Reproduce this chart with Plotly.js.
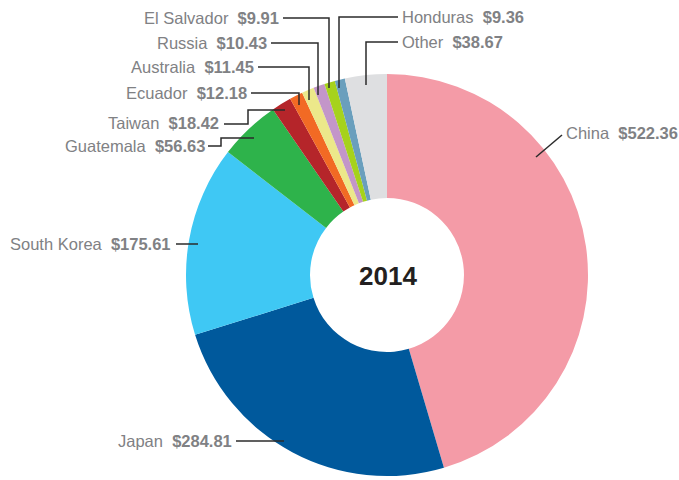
<!DOCTYPE html>
<html>
<head>
<meta charset="utf-8">
<script src="https://cdn.plot.ly/plotly-3.0.1.min.js"></script>
<style>html,body{margin:0;padding:0;background:#fff;}#chart{width:679px;height:480px;}</style>
</head>
<body>
<div id="chart"></div>
<script>
// ---- data ----
const countries = ["China", "Japan", "South Korea", "Guatemala", "Taiwan", "Ecuador", "Australia", "Russia", "El Salvador", "Honduras", "Other"];
const values = [522.36, 284.81, 175.61, 56.63, 18.42, 12.18, 11.45, 10.43, 9.91, 9.36, 38.67];
const valueLabels = ["$522.36", "$284.81", "$175.61", "$56.63", "$18.42", "$12.18", "$11.45", "$10.43", "$9.91", "$9.36", "$38.67"];
const sliceColors = ["#f49ba7", "#00599c", "#3fc8f4", "#2eb34b", "#b5252a", "#f26a24", "#ece88a", "#c396c9", "#a6d21c", "#6a9fbd", "#dedfe1"];
const centerLabel = "2014";

// ---- layout helpers (pixel -> paper) ----
const W = 679, H = 480;
const px = x => x / W;
const py = y => 1 - y / H;

// label placement: [anchor x, y, side, leader path points]
const placement = {
  "China":       {x: 565, y: 133, side: "left",  path: [[536,157],[562,135]]},
  "Japan":       {x: 233, y: 441, side: "right", path: [[236,441],[284,441]]},
  "South Korea": {x: 172, y: 244, side: "right", path: [[176,244],[198,244]]},
  "Guatemala":   {x: 206, y: 146, side: "right", path: [[208,146],[221,146],[221,138],[254,138]]},
  "Taiwan":      {x: 220, y: 123, side: "right", path: [[224,124],[248,124],[248,110],[285,110]]},
  "Ecuador":     {x: 248, y: 93,  side: "right", path: [[251,93],[299,93],[299,105]]},
  "Australia":   {x: 255, y: 67,  side: "right", path: [[258,67],[309,67],[309,100]]},
  "Russia":      {x: 268, y: 43,  side: "right", path: [[271,43],[318,43],[318,95]]},
  "El Salvador": {x: 280, y: 18,  side: "right", path: [[283,18],[329,18],[329,88]]},
  "Honduras":    {x: 401, y: 17,  side: "left",  path: [[398,17],[339,17],[339,88]]},
  "Other":       {x: 401, y: 42,  side: "left",  path: [[398,42],[366,42],[366,85]]}
};

const annotations = [];
const shapes = [];
countries.forEach((c, i) => {
  const p = placement[c];
  annotations.push({
    xref: "paper", yref: "paper",
    x: px(p.x), y: py(p.y),
    xanchor: p.side, yanchor: "middle",
    showarrow: false,
    text: c + "&nbsp; <b>" + valueLabels[i] + "</b>",
    font: {family: "Liberation Sans, Arial, sans-serif", size: 16.5, color: "#808184"},
    borderpad: 0
  });
  const d = p.path.map((pt, k) => (k === 0 ? "M " : "L ") + px(pt[0]) + "," + py(pt[1])).join(" ");
  shapes.push({type: "path", xref: "paper", yref: "paper", path: d, line: {color: "#2b2b2b", width: 1.5}});
});

annotations.push({
  xref: "paper", yref: "paper", x: px(388), y: py(275.5),
  xanchor: "center", yanchor: "middle", showarrow: false,
  text: "<b>" + centerLabel + "</b>",
  font: {family: "Liberation Sans, Arial, sans-serif", size: 26, color: "#231f20"}
});

const trace = {
  type: "pie",
  labels: countries,
  values: values,
  sort: false,
  direction: "clockwise",
  rotation: 0,
  hole: 0.383,
  textinfo: "none",
  hoverinfo: "label+value",
  marker: {colors: sliceColors, line: {color: "#ffffff", width: 0}},
  domain: {x: [px(186), px(588)], y: [py(476), py(74)]},
  showlegend: false
};

const layout = {
  width: W, height: H,
  margin: {l: 0, r: 0, t: 0, b: 0},
  paper_bgcolor: "#ffffff",
  plot_bgcolor: "#ffffff",
  showlegend: false,
  annotations: annotations,
  shapes: shapes
};

Plotly.newPlot("chart", [trace], layout, {displayModeBar: false, staticPlot: true});
</script>
</body>
</html>
